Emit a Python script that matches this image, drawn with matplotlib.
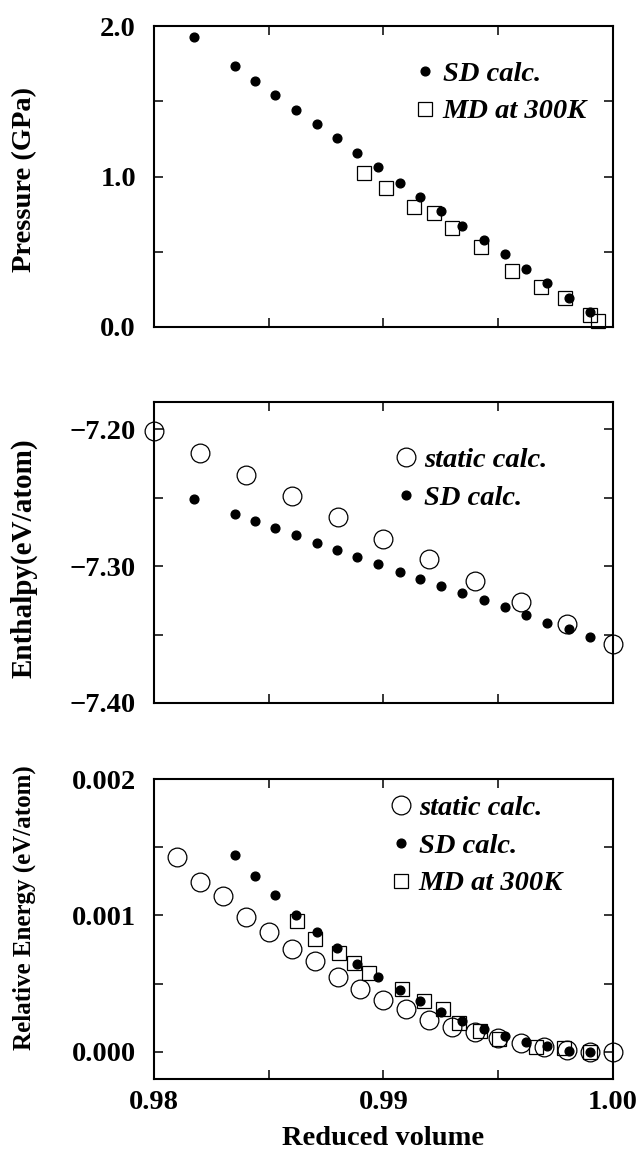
import numpy as np
import matplotlib
matplotlib.use('Agg')
import matplotlib.pyplot as plt
from matplotlib.ticker import MultipleLocator, FuncFormatter

plt.rcParams['font.family'] = 'Liberation Serif'
plt.rcParams['font.weight'] = 'bold'
plt.rcParams['axes.labelweight'] = 'bold'

# SD calc. (volume shared by pressure and enthalpy panels)
sd_vol = [0.98174, 0.98351, 0.98440, 0.98527, 0.98618, 0.98710, 0.98798, 0.98885, 0.98977,
          0.99071, 0.99161, 0.99251, 0.99343, 0.99437, 0.99528, 0.99620, 0.99713, 0.99808, 0.99901]
sd_pressure = [1.927, 1.733, 1.636, 1.540, 1.444, 1.349, 1.253, 1.156, 1.060,
               0.960, 0.867, 0.771, 0.673, 0.578, 0.482, 0.386, 0.290, 0.190, 0.101]
sd_enthalpy = [-7.2507, -7.2617, -7.2672, -7.2723, -7.2774, -7.2828, -7.2879, -7.2934, -7.2985,
               -7.3039, -7.3090, -7.3143, -7.3199, -7.3250, -7.3301, -7.3357, -7.3413, -7.3461, -7.3515]
sd_vol_e = sd_vol[1:]
sd_energy = [1.442, 1.290, 1.147, 1.007, 0.882, 0.762, 0.644, 0.545, 0.452,
             0.369, 0.292, 0.222, 0.166, 0.116, 0.072, 0.042, 0.008, 0.0]

# MD at 300K
md_vol_p = [0.98917, 0.99013, 0.99135, 0.99219, 0.99300, 0.99425, 0.99559, 0.99689, 0.99791, 0.99900, 0.99936]
md_pressure = [1.022, 0.922, 0.796, 0.756, 0.656, 0.533, 0.374, 0.268, 0.191, 0.080, 0.040]
md_vol_e = [0.98624, 0.98704, 0.98806, 0.98871, 0.98936, 0.99081, 0.99175, 0.99258,
            0.99330, 0.99420, 0.99504, 0.99666, 0.99789, 0.99902]
md_energy = [0.958, 0.828, 0.722, 0.651, 0.575, 0.460, 0.375, 0.312,
             0.208, 0.155, 0.090, 0.035, 0.025, 0.0]

# static calc.
static_vol_h = [0.980, 0.982, 0.984, 0.986, 0.988, 0.990, 0.992, 0.994, 0.996, 0.998, 1.000]
static_enthalpy = [-7.201, -7.217, -7.233, -7.2485, -7.264, -7.280, -7.295, -7.311, -7.326, -7.342, -7.357]
static_vol_e = [0.981, 0.982, 0.983, 0.984, 0.985, 0.986, 0.987, 0.988, 0.989, 0.990,
                0.991, 0.992, 0.993, 0.994, 0.995, 0.996, 0.997, 0.998, 0.999, 1.000]
static_energy = [1.430, 1.246, 1.140, 0.988, 0.877, 0.754, 0.663, 0.550, 0.459, 0.378,
                 0.312, 0.231, 0.185, 0.145, 0.100, 0.065, 0.034, 0.010, 0.0, 0.0]

FS = 20.5


def fmt(n):
    # format with n decimals and a real minus sign
    return FuncFormatter(lambda v, pos: ('%.*f' % (n, v)).replace('-', '\u2212'))


sd_style = dict(linestyle='none', marker='o', ms=6.3, color='black', clip_on=False, zorder=5)
st_style = dict(linestyle='none', marker='o', ms=13.5, mfc='none', mec='black', mew=0.9, clip_on=False, zorder=3)
md_style = dict(linestyle='none', marker='s', ms=10.5, mfc='none', mec='black', mew=0.9, clip_on=False, zorder=4)

fig = plt.figure(figsize=(6.39, 11.53), dpi=100)
ax1 = fig.add_axes([0.241, 0.7164, 0.718, 0.261])
ax2 = fig.add_axes([0.241, 0.3903, 0.718, 0.261])
ax3 = fig.add_axes([0.241, 0.0642, 0.718, 0.260])

# Pressure
ax1.plot(sd_vol, sd_pressure, label='SD calc.', **sd_style)
ax1.plot(md_vol_p, md_pressure, label='MD at 300K', **md_style)
ax1.set_ylim(0, 2.0)
ax1.yaxis.set_major_locator(MultipleLocator(1.0))
ax1.yaxis.set_minor_locator(MultipleLocator(0.5))
ax1.yaxis.set_major_formatter(fmt(1))
ax1.set_ylabel('Pressure (GPa)', fontsize=20.5, va='center')
ax1.yaxis.set_label_coords(-0.283, 0.49)

# Enthalpy
ax2.plot(static_vol_h, static_enthalpy, label='static calc.', **st_style)
ax2.plot(sd_vol, sd_enthalpy, label='SD calc.', **sd_style)
ax2.set_ylim(-7.40, -7.18)
ax2.yaxis.set_major_locator(MultipleLocator(0.1))
ax2.yaxis.set_minor_locator(MultipleLocator(0.05))
ax2.yaxis.set_major_formatter(fmt(2))
ax2.set_ylabel('Enthalpy(eV/atom)', fontsize=21, va='center')
ax2.yaxis.set_label_coords(-0.283, 0.48)

# Relative energy
ax3.plot(static_vol_e, np.array(static_energy) * 1e-3, label='static calc.', **st_style)
ax3.plot(sd_vol_e, np.array(sd_energy) * 1e-3, label='SD calc.', **sd_style)
ax3.plot(md_vol_e, np.array(md_energy) * 1e-3, label='MD at 300K', **md_style)
ax3.set_ylim(-0.0002, 0.002)
ax3.yaxis.set_major_locator(MultipleLocator(0.001))
ax3.yaxis.set_minor_locator(MultipleLocator(0.0005))
ax3.yaxis.set_major_formatter(fmt(3))
ax3.set_ylabel('Relative Energy (eV/atom)', fontsize=18, va='center')
ax3.yaxis.set_label_coords(-0.283, 0.573)
ax3.set_xlabel('Reduced volume', fontsize=FS, labelpad=8)

for ax in (ax1, ax2, ax3):
    ax.set_xlim(0.98, 1.00)
    ax.xaxis.set_major_locator(MultipleLocator(0.01))
    ax.xaxis.set_minor_locator(MultipleLocator(0.005))
    ax.xaxis.set_major_formatter(fmt(2))
    ax.tick_params(which='both', direction='in', top=True, right=True, length=6.5, width=1.1,
                   labelsize=FS)
    ax.tick_params(axis='y', pad=13)
    ax.tick_params(axis='x', pad=8)
    for s in ax.spines.values():
        s.set_linewidth(1.5)
ax1.tick_params(labelbottom=False)
ax2.tick_params(labelbottom=False)

leg_kw = dict(loc='upper left', frameon=False, borderpad=0, borderaxespad=0,
              handlelength=0.85, handletextpad=0.2, labelspacing=0.42,
              prop={'family': 'Liberation Serif', 'weight': 'bold', 'style': 'italic', 'size': FS})
ax1.legend(bbox_to_anchor=(0.564, 0.885), **leg_kw)
ax2.legend(bbox_to_anchor=(0.523, 0.85), **leg_kw)
ax3.legend(bbox_to_anchor=(0.512, 0.948), **leg_kw)

fig.savefig('out.png', dpi=100)
